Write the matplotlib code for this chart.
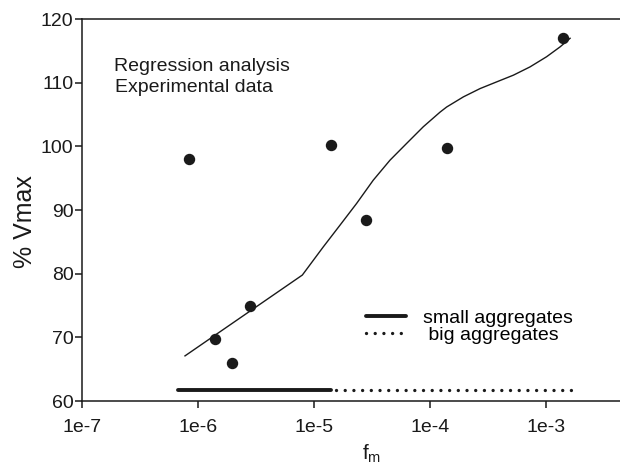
import matplotlib
matplotlib.use("Agg")
import matplotlib.pyplot as plt

plt.rcParams['font.family'] = ['Liberation Sans', 'DejaVu Sans']
plt.rcParams['mathtext.default'] = 'regular'

# Experimental data points
exp_x = [8.37e-7, 1.40e-6, 1.97e-6, 2.79e-6, 1.41e-5, 2.82e-5, 1.41e-4, 1.41e-3]
exp_y = [98.0, 69.8, 66.0, 75.0, 100.2, 88.5, 99.7, 117.1]

# Regression curve
reg_x = [7.74e-7, 7.94e-6, 1.20e-5, 1.67e-5, 2.33e-5, 3.24e-5, 4.52e-5, 6.30e-5,
         8.75e-5, 1.22e-4, 1.39e-4, 1.94e-4, 2.70e-4, 3.75e-4, 5.22e-4, 7.26e-4,
         1.01e-3, 1.32e-3, 1.61e-3]
reg_y = [67.1, 79.8, 84.2, 87.6, 91.05, 94.7, 97.85, 100.5,
         103.1, 105.4, 106.2, 107.8, 109.1, 110.15, 111.2, 112.5,
         114.1, 115.65, 117.0]

# Aggregate ranges
small_range = [6.73e-7, 1.41e-5]
big_range = [1.55e-5, 1.89e-3]
range_level = [61.7, 61.7]

x_ticks = [1e-7, 1e-6, 1e-5, 1e-4, 1e-3]
x_ticklabels = ['1e-7', '1e-6', '1e-5', '1e-4', '1e-3']
y_ticks = [60, 70, 80, 90, 100, 110, 120]

fig = plt.figure(figsize=(6.2, 4.68), dpi=100)
ax = fig.add_axes([0.132, 0.143, 0.936, 0.816])

ax.plot(reg_x, reg_y, color='#1a1a1a', lw=1.0)
ax.plot(exp_x, exp_y, 'o', color='#1a1a1a', ms=7.2, mec='#1a1a1a')

small_line, = ax.plot(small_range, range_level, color='#1a1a1a', lw=2.8,
                      solid_capstyle='round', label='small aggregates')
big_line, = ax.plot(big_range, range_level, color='#1a1a1a', lw=2.4,
                    linestyle=(0, (0.01, 2.6)), dash_capstyle='round',
                    label=' big aggregates')

ax.set_xscale('log')
ax.set_xlim(1e-7, 1e-2)
ax.set_ylim(60, 120)
ax.set_xticks(x_ticks)
ax.set_xticklabels(x_ticklabels)
ax.minorticks_off()
ax.set_yticks(y_ticks)

ax.spines['right'].set_visible(False)
for s in ['left', 'bottom', 'top']:
    ax.spines[s].set_linewidth(1.1)
    ax.spines[s].set_color('#1a1a1a')

ax.tick_params(axis='both', direction='out', length=5, width=1.1,
               labelsize=14, colors='#1a1a1a', pad=1)
ax.tick_params(axis='x', pad=8)

ax.set_ylabel('% Vmax', fontsize=18, color='#1a1a1a')
ax.yaxis.set_label_coords(-0.077, 0.47)
ax.set_xlabel('f$_{m}$', fontsize=15, color='#1a1a1a', labelpad=5)

ax.text(0.0546, 0.875, 'Regression analysis', transform=ax.transAxes,
        fontsize=14, va='center', ha='left', color='#1a1a1a')
ax.text(0.0566, 0.821, 'Experimental data', transform=ax.transAxes,
        fontsize=14, va='center', ha='left', color='#1a1a1a')

ax.legend(handles=[small_line, big_line], loc='upper left',
          bbox_to_anchor=(0.4894, 0.241), frameon=False, fontsize=14,
          handlelength=2.06, handletextpad=0.86, labelspacing=0.0,
          borderpad=0, borderaxespad=0)

fig.savefig('out.png', dpi=100)
